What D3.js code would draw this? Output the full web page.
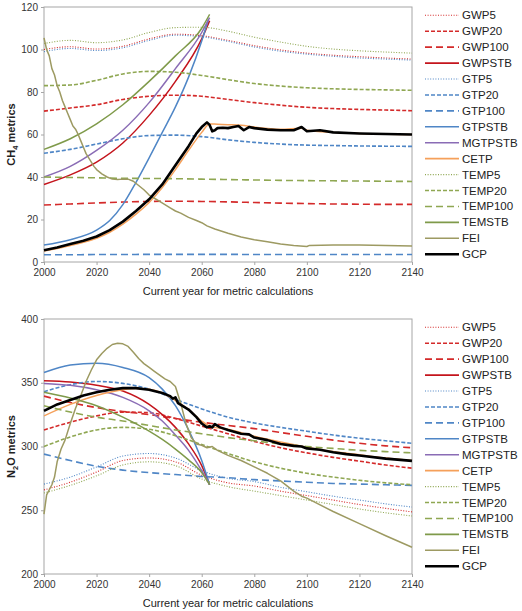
<!DOCTYPE html>
<html>
<head>
<meta charset="utf-8">
<script src="https://cdn.jsdelivr.net/npm/d3@7"></script>
<style>
  body { margin: 0; background: #fff; }
  text { font-family: "Liberation Sans", Arial, sans-serif; fill: #222; }
  .axis path, .axis line { stroke: #a6a6a6; }
  .axis text { font-size: 10px; fill: #333; }
</style>
</head>
<body>
<div id="chart"></div>
<script>
// ---- data ----
const seriesNames = ['GWP5', 'GWP20', 'GWP100', 'GWPSTB', 'GTP5', 'GTP20', 'GTP100', 'GTPSTB',
  'MGTPSTB', 'CETP', 'TEMP5', 'TEMP20', 'TEMP100', 'TEMSTB', 'FEI', 'GCP']
const xTicks = [2000, 2020, 2040, 2060, 2080, 2100, 2120, 2140]
const ch4Ticks = [0, 20, 40, 60, 80, 100, 120]
const n2oTicks = [200, 250, 300, 350, 400]

// CH4 panel
const ch4Years = [2000, 2010, 2020, 2030, 2040, 2050, 2060, 2070, 2080, 2090, 2100, 2110, 2120, 2130, 2140]
const ch4GWP5 = [100, 101.3, 100.2, 101.5, 105, 107.2, 106.5, 104.3, 101.8, 99.8, 98.3, 97.3, 96.6, 96, 95.5]
const ch4GWP20 = [71, 72.5, 74, 76.5, 78, 78.5, 78, 76.5, 75, 73.8, 72.8, 72.2, 71.8, 71.5, 71.2]
const ch4GWP100 = [26.8, 27.3, 27.8, 28.2, 28.5, 28.6, 28.5, 28.3, 28, 27.7, 27.5, 27.3, 27.2, 27.1, 27.1]
const ch4GTP5 = [99, 100.5, 99.5, 100.8, 104.3, 106.7, 106, 103.8, 101.2, 99.2, 97.8, 96.8, 96, 95.5, 95]
const ch4GTP20 = [51.2, 53, 55.5, 58, 59.5, 59.7, 59, 57.5, 56.3, 55.5, 55, 54.8, 54.6, 54.5, 54.4]
const ch4GTP100 = [3.4, 3.4, 3.5, 3.5, 3.6, 3.6, 3.6, 3.6, 3.5, 3.5, 3.5, 3.5, 3.5, 3.5, 3.5]
const ch4TEMP5 = [102.8, 104.3, 103.2, 104.5, 108, 110.3, 110.5, 108.6, 105.8, 103.5, 101.5, 100.2, 99.4, 98.8, 98.3]
const ch4TEMP20 = [83, 83.3, 85.5, 88.5, 89.7, 89.3, 87.8, 85.8, 84, 82.8, 82, 81.5, 81.2, 81, 80.8]
const ch4TEMP100 = [40, 39.8, 39.6, 39.4, 39.3, 39.2, 39, 38.8, 38.6, 38.4, 38.3, 38.2, 38.1, 38, 37.9]

const ch4StbYears = [2000, 2010, 2020, 2030, 2040, 2050, 2060, 2063]
const ch4GWPSTB = [36.5, 41, 47, 56, 69, 85, 105, 113.5]
const ch4MGTPSTB = [40, 45, 52.5, 62, 75, 91, 108, 115]
const ch4TEMSTB = [53, 58, 65, 74, 85, 97, 110, 116.5]
const ch4GtpStbYears = [2000, 2010, 2020, 2025, 2030, 2035, 2040, 2045, 2050, 2055, 2060, 2062.5]
const ch4GTPSTB = [8, 10.5, 15, 19.5, 27, 37.5, 49, 61, 73, 87, 104, 114]

const ch4CetpYears = [2000, 2005, 2010, 2015, 2020, 2025, 2030, 2035, 2040, 2045, 2050, 2055, 2060, 2063, 2066, 2070, 2075, 2080, 2090, 2098, 2100, 2110, 2120, 2140]
const ch4CETP = [5.2, 6.3, 7.8, 9.3, 11.2, 14, 17.8, 22.5, 28, 35, 43.5, 52.5, 61, 65, 64.8, 64.6, 64.3, 63.5, 62.5, 63, 62, 61, 60.5, 60]

const ch4FeiYears = [2000, 2001, 2002, 2003, 2004, 2005, 2006, 2007, 2008, 2009, 2010, 2011, 2012, 2013, 2014, 2015, 2016, 2017, 2018, 2019, 2020, 2022, 2024, 2026, 2028, 2030, 2032, 2034, 2036, 2038, 2040, 2042, 2044, 2046, 2048, 2050, 2052, 2055, 2058, 2060, 2062, 2065, 2070, 2075, 2080, 2085, 2090, 2095, 2100, 2101, 2110, 2120, 2130, 2140]
const ch4FEI = [105.5, 100, 97, 91, 88, 83, 80, 76, 73, 70, 67, 64, 62.5, 60, 57, 54, 51, 49, 47, 45, 43.5, 41.5, 40, 39, 38.8, 39, 39, 38, 36, 34, 31.5, 30, 28.5, 27, 25.5, 24, 23, 21, 19.5, 18.5, 17, 15.5, 13.5, 11.8, 10.5, 9.5, 8.5, 7.8, 7.3, 7.8, 8, 8, 7.8, 7.5]

const ch4GcpYears = [2000, 2005, 2010, 2015, 2020, 2025, 2030, 2035, 2040, 2045, 2050, 2055, 2058, 2060, 2062, 2063, 2064, 2065, 2066, 2068, 2070, 2072, 2074, 2076, 2078, 2080, 2085, 2090, 2095, 2098, 2100, 2105, 2110, 2120, 2130, 2140]
const ch4GCP = [5.5, 6.8, 8.5, 10, 12, 15, 19, 24, 29.5, 36.5, 45.5, 54.5, 60.5, 63.5, 65.7, 64.5, 61.5, 62, 63, 63.2, 63, 63.5, 64, 62, 63.5, 63, 62.3, 62, 62, 63.5, 61.5, 62, 61, 60.5, 60.2, 60]

// N2O panel
const n2oYears = ch4Years
const n2oGWP5 = [266, 272, 280, 289, 291, 288, 277.5, 271.5, 269, 265, 261.5, 258, 254.5, 251.5, 248.7]
const n2oGWP20 = [313, 319, 324, 327, 326.5, 322, 316, 310, 304, 299, 295, 291.5, 288.5, 285.5, 283]
const n2oGWP100 = [339.5, 334.5, 330.5, 327.5, 325, 322, 319, 316.5, 314, 311, 308, 305, 302.5, 300.5, 299]
const n2oGTP5 = [270.5, 276, 284, 292.5, 294.5, 291, 281, 275, 272.5, 268, 264.5, 261, 258, 255, 252.5]
const n2oGTP20 = [343, 348.5, 351, 349.5, 345, 337, 329.5, 323, 318.5, 315, 312, 309, 306.5, 304.5, 302.5]
const n2oGTP100 = [294, 289, 284.5, 281.5, 279.5, 278, 276.5, 275.5, 274, 273, 272, 271, 270.5, 270, 269.5]
const n2oTEMP5 = [263.5, 269.5, 277, 285.5, 288, 285, 274.5, 268.5, 265, 261.5, 258, 254.5, 251, 248, 245.5]
const n2oTEMP20 = [300, 307.5, 313, 315, 313.5, 308.5, 301.5, 294.5, 288, 283, 279, 276, 273.5, 271.5, 270]
const n2oTEMP100 = [332, 327, 323, 320, 316.5, 313, 310, 307, 304.5, 302, 300, 298.5, 297, 296, 295]

const n2oStbYears = [2000, 2010, 2020, 2030, 2040, 2045, 2050, 2055, 2060, 2063]
const n2oGWPSTB = [351.5, 350.5, 348, 343.5, 333, 325, 315, 302, 285, 270]
const n2oGTPSTB = [358, 364, 365.3, 362, 354, 345, 332, 313, 289, 270]
const n2oMGTPSTB = [349.5, 348, 344.5, 338.5, 328, 320, 309, 297, 281, 270]
const n2oTEMSTB = [342.5, 338, 332, 323, 312, 305.5, 298, 289.5, 279.5, 270]

const n2oCetpYears = [2000, 2010, 2020, 2030, 2035, 2040, 2045, 2050, 2055, 2060, 2063, 2070, 2080, 2090, 2100, 2110, 2120, 2130, 2140]
const n2oCETP = [324, 333, 340, 344.5, 345.5, 345, 342, 336, 329, 320, 316, 313.5, 308, 303.5, 299.5, 296, 293.5, 291, 289]

const n2oFeiYears = [2000, 2001, 2003, 2004, 2005, 2006.5, 2008, 2010, 2012, 2014, 2016, 2018, 2020, 2022, 2024, 2026, 2028, 2030, 2032, 2034, 2036, 2038, 2040, 2042, 2044, 2046, 2048, 2050, 2052, 2054, 2056, 2058, 2060, 2062, 2064, 2066, 2068, 2070, 2075, 2080, 2085, 2090, 2095, 2098, 2100, 2110, 2120, 2130, 2140]
const n2oFEI = [247, 262, 270, 276, 288, 298, 305, 318, 330, 340, 351, 360, 368, 373, 377, 380, 381, 380.5, 378.5, 374, 369, 365, 362, 359, 356, 353, 351, 347, 334, 318, 307, 302, 301, 299, 300, 297, 295, 293, 289, 284, 279, 273, 265, 261, 259.5, 249, 239.5, 230, 221]

const n2oGcpYears = [2000, 2005, 2010, 2015, 2020, 2025, 2030, 2035, 2040, 2045, 2048, 2049, 2050, 2051, 2053, 2055, 2058, 2060, 2062, 2063, 2064, 2065, 2067, 2070, 2075, 2078, 2080, 2085, 2090, 2095, 2098, 2100, 2105, 2110, 2115, 2120, 2130, 2140]
const n2oGCP = [328, 333, 336.5, 340, 342.5, 344.5, 345.8, 345.8, 344.5, 342, 339.5, 337.5, 338.5, 334, 331.5, 329, 323, 318, 315, 316, 315, 317.5, 315, 313, 310, 309.5, 307, 305, 302, 300.5, 300, 298.5, 297.5, 295.5, 294, 293, 290.5, 288.7]

// ---- styles ----
const red = '#d42a2a', blue = '#4f86c6', green = '#8fa752'
const styles = {
  GWP5: { color: red, dash: '1,1.6', w: 1.1 },
  GWP20: { color: red, dash: '4,2', w: 1.6 },
  GWP100: { color: red, dash: '7,4', w: 1.6 },
  GWPSTB: { color: '#c4141c', dash: null, w: 1.5 },
  GTP5: { color: blue, dash: '1,1.6', w: 1.1 },
  GTP20: { color: blue, dash: '4,2', w: 1.6 },
  GTP100: { color: blue, dash: '7,4', w: 1.6 },
  GTPSTB: { color: blue, dash: null, w: 1.5 },
  MGTPSTB: { color: '#8a6cb5', dash: null, w: 1.5 },
  CETP: { color: '#f5a05a', dash: null, w: 1.5 },
  TEMP5: { color: green, dash: '1,1.6', w: 1.1 },
  TEMP20: { color: green, dash: '4,2', w: 1.6 },
  TEMP100: { color: green, dash: '7,4', w: 1.6 },
  TEMSTB: { color: '#7f9a4a', dash: null, w: 1.5 },
  FEI: { color: '#9d9a62', dash: null, w: 1.5 },
  GCP: { color: '#000', dash: null, w: 2.6 }
}

const zip = (xs, ys) => xs.map((x, i) => [x, ys[i]])

const panels = [
  {
    top: 7, bottom: 262, domain: [0, 120], ticks: ch4Ticks, gas: ['CH', '4'],
    series: {
      GWP5: zip(ch4Years, ch4GWP5), GWP20: zip(ch4Years, ch4GWP20), GWP100: zip(ch4Years, ch4GWP100),
      GWPSTB: zip(ch4StbYears, ch4GWPSTB),
      GTP5: zip(ch4Years, ch4GTP5), GTP20: zip(ch4Years, ch4GTP20), GTP100: zip(ch4Years, ch4GTP100),
      GTPSTB: zip(ch4GtpStbYears, ch4GTPSTB),
      MGTPSTB: zip(ch4StbYears, ch4MGTPSTB), CETP: zip(ch4CetpYears, ch4CETP),
      TEMP5: zip(ch4Years, ch4TEMP5), TEMP20: zip(ch4Years, ch4TEMP20), TEMP100: zip(ch4Years, ch4TEMP100),
      TEMSTB: zip(ch4StbYears, ch4TEMSTB), FEI: zip(ch4FeiYears, ch4FEI), GCP: zip(ch4GcpYears, ch4GCP)
    }
  },
  {
    top: 319, bottom: 574, domain: [200, 400], ticks: n2oTicks, gas: ['N', '2', 'O'],
    series: {
      GWP5: zip(n2oYears, n2oGWP5), GWP20: zip(n2oYears, n2oGWP20), GWP100: zip(n2oYears, n2oGWP100),
      GWPSTB: zip(n2oStbYears, n2oGWPSTB),
      GTP5: zip(n2oYears, n2oGTP5), GTP20: zip(n2oYears, n2oGTP20), GTP100: zip(n2oYears, n2oGTP100),
      GTPSTB: zip(n2oStbYears, n2oGTPSTB),
      MGTPSTB: zip(n2oStbYears, n2oMGTPSTB), CETP: zip(n2oCetpYears, n2oCETP),
      TEMP5: zip(n2oYears, n2oTEMP5), TEMP20: zip(n2oYears, n2oTEMP20), TEMP100: zip(n2oYears, n2oTEMP100),
      TEMSTB: zip(n2oStbYears, n2oTEMSTB), FEI: zip(n2oFeiYears, n2oFEI), GCP: zip(n2oGcpYears, n2oGCP)
    }
  }
]

// ---- drawing ----
const width = 522, height = 611
const left = 44, right = 412

const svg = d3.select('#chart').append('svg')
  .attr('width', width)
  .attr('height', height)

const x = d3.scaleLinear().domain([2000, 2140]).range([left, right])

panels.forEach(p => {
  const y = d3.scaleLinear().domain(p.domain).range([p.bottom, p.top])
  const g = svg.append('g')

  // plot frame
  g.append('rect')
    .attr('x', left).attr('y', p.top)
    .attr('width', right - left).attr('height', p.bottom - p.top)
    .attr('fill', 'none').attr('stroke', '#a6a6a6')

  g.append('g').attr('class', 'axis')
    .attr('transform', 'translate(' + left + ',0)')
    .call(d3.axisLeft(y).tickValues(p.ticks).tickSize(3).tickSizeOuter(0).tickPadding(3))
    .call(a => a.select('.domain').remove())

  g.append('g').attr('class', 'axis')
    .attr('transform', 'translate(0,' + p.bottom + ')')
    .call(d3.axisBottom(x).tickValues(xTicks).tickFormat(d3.format('d')).tickSize(3).tickSizeOuter(0).tickPadding(4))
    .call(a => a.select('.domain').remove())

  // lines
  seriesNames.forEach(name => {
    const s = styles[name]
    const smooth = (name === 'FEI' || name === 'GCP') ? d3.curveLinear : d3.curveMonotoneX
    const line = d3.line().x(d => x(d[0])).y(d => y(d[1])).curve(smooth)
    g.append('path')
      .datum(p.series[name])
      .attr('d', line)
      .attr('fill', 'none')
      .attr('stroke', s.color)
      .attr('stroke-width', s.w)
      .attr('stroke-dasharray', s.dash)
      .attr('stroke-linejoin', 'round')
  })

  // axis titles
  const yt = g.append('text')
    .attr('transform', 'translate(15,' + (p.top + p.bottom) / 2 + ') rotate(-90)')
    .attr('text-anchor', 'middle')
    .style('font-size', '11px')
    .style('font-weight', 'bold')
  yt.append('tspan').text(p.gas[0])
  yt.append('tspan').text(p.gas[1]).attr('dy', 3).style('font-size', '7.5px')
  yt.append('tspan').text((p.gas[2] || '') + ' metrics').attr('dy', -3)

  g.append('text')
    .attr('x', (left + right) / 2).attr('y', p.bottom + 33)
    .attr('text-anchor', 'middle')
    .style('font-size', '11px')
    .text('Current year for metric calculations')

  // legend
  const lg = g.append('g').attr('transform', 'translate(425,' + (p.top + 8.3) + ')')
  seriesNames.forEach((name, i) => {
    const s = styles[name]
    const row = lg.append('g').attr('transform', 'translate(0,' + i * 15.93 + ')')
    row.append('line')
      .attr('x1', 0).attr('x2', 34)
      .attr('stroke', s.color)
      .attr('stroke-width', name === 'GCP' ? 2.6 : (s.dash === '1,1.6' ? 1.1 : 1.6))
      .attr('stroke-dasharray', s.dash)
    row.append('text')
      .attr('x', 37).attr('dy', '0.35em')
      .style('font-size', '11.5px')
      .text(name)
  })
})
</script>
</body>
</html>
